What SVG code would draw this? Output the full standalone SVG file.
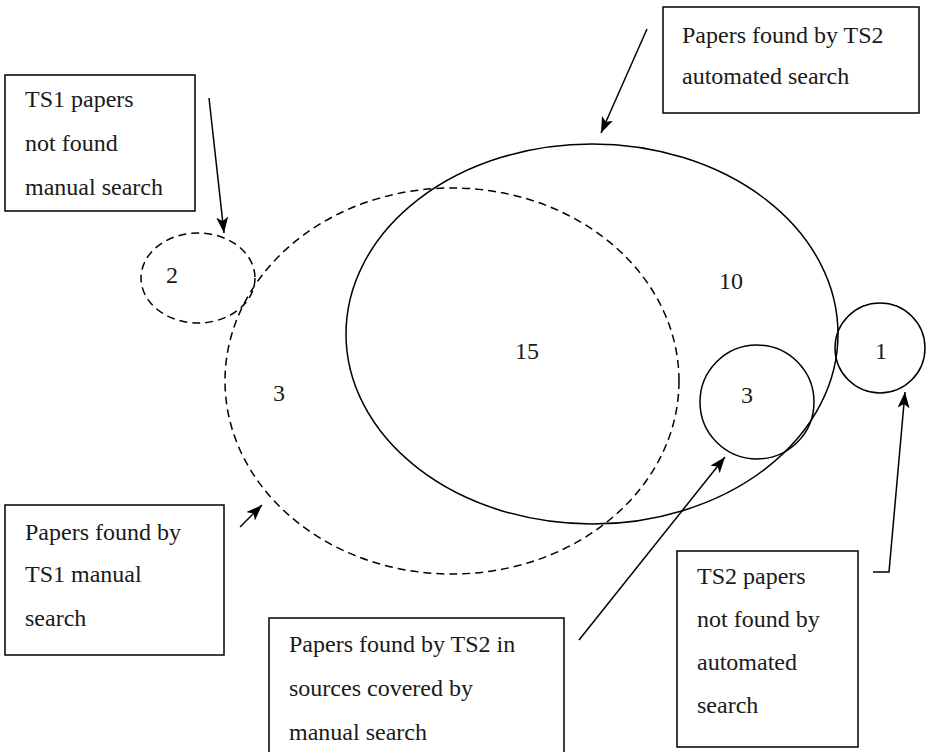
<svg xmlns="http://www.w3.org/2000/svg" width="927" height="752" viewBox="0 0 927 752">
<style>
.box{fill:#fff;stroke:#000;stroke-width:1.5}
.t{font-family:"Liberation Serif","Times New Roman","DejaVu Serif",serif;font-size:24px;fill:#1a1a1a}
.solid{fill:none;stroke:#000;stroke-width:1.5}
.dash{fill:none;stroke:#000;stroke-width:1.5;stroke-dasharray:8 5}
.conn{fill:none;stroke:#000;stroke-width:1.5}
</style>
<defs>
<marker id="ah" viewBox="0 0 16 12" refX="16" refY="6" markerWidth="16" markerHeight="12" markerUnits="userSpaceOnUse" orient="auto">
<path d="M0,0 L16,6 L0,12 L4,6 Z" fill="#000"/>
</marker>
</defs>
<rect width="927" height="752" fill="#fff"/>
<g id="sets">
<ellipse id="ts2-auto" class="solid" cx="592" cy="334" rx="246" ry="190"/>
<ellipse id="ts1-manual" class="dash" cx="452" cy="381" rx="227" ry="193"/>
<ellipse id="ts1-notfound" class="dash" cx="198" cy="278" rx="57" ry="45"/>
<circle id="ts2-in-manual" class="solid" cx="757" cy="402" r="57"/>
<circle id="ts2-notfound" class="solid" cx="880" cy="348" r="45"/>
<text class="t" x="172" y="283" text-anchor="middle">2</text>
<text class="t" x="279" y="401" text-anchor="middle">3</text>
<text class="t" x="527" y="359" text-anchor="middle">15</text>
<text class="t" x="731" y="289" text-anchor="middle">10</text>
<text class="t" x="747" y="403" text-anchor="middle">3</text>
<text class="t" x="881" y="359" text-anchor="middle">1</text>
</g>
<g id="connectors">
<line class="conn" x1="209" y1="98" x2="224" y2="233" marker-end="url(#ah)"/>
<line class="conn" x1="647" y1="29" x2="601" y2="133" marker-end="url(#ah)"/>
<line class="conn" x1="240" y1="527" x2="262" y2="505" marker-end="url(#ah)"/>
<line class="conn" x1="579" y1="640" x2="725" y2="457" marker-end="url(#ah)"/>
<polyline class="conn" points="873,572 889,572 905,392" marker-end="url(#ah)"/>
</g>
<g id="box-ts1-notfound">
<rect class="box" x="5" y="75" width="190" height="136"/>
<text class="t" x="25" y="107">TS1 papers</text>
<text class="t" x="25" y="151">not found</text>
<text class="t" x="25" y="195">manual search</text>
</g>
<g id="box-ts2-auto">
<rect class="box" x="663" y="7" width="256" height="106"/>
<text class="t" x="682" y="43">Papers found by TS2</text>
<text class="t" x="682" y="84">automated search</text>
</g>
<g id="box-ts1-manual">
<rect class="box" x="5" y="505" width="219" height="150"/>
<text class="t" x="25" y="540">Papers found by</text>
<text class="t" x="25" y="582">TS1 manual</text>
<text class="t" x="25" y="626">search</text>
</g>
<g id="box-ts2-in-manual">
<rect class="box" x="269" y="618" width="295" height="145"/>
<text class="t" x="289" y="652">Papers found by TS2 in</text>
<text class="t" x="289" y="696">sources covered by</text>
<text class="t" x="289" y="740">manual search</text>
</g>
<g id="box-ts2-notfound">
<rect class="box" x="677" y="551" width="181" height="196"/>
<text class="t" x="697" y="584">TS2 papers</text>
<text class="t" x="697" y="627">not found by</text>
<text class="t" x="697" y="670">automated</text>
<text class="t" x="697" y="713">search</text>
</g>
</svg>
